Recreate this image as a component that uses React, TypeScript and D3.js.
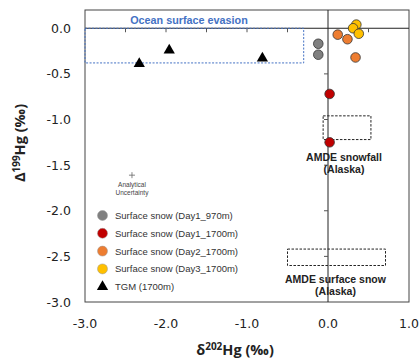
import { useEffect, useRef } from "react";
import * as d3 from "d3";

// series values: [d202Hg, D199Hg]
const day1_970 = [
  [-0.12, -0.17],
  [-0.12, -0.29],
];
const day1_1700 = [
  [0.02, -0.72],
  [0.02, -1.25],
];
const day2_1700 = [
  [0.12, -0.07],
  [0.24, -0.12],
  [0.34, -0.32],
];
const day3_1700 = [
  [0.35, 0.04],
  [0.31, 0.0],
  [0.38, -0.06],
];
const tgm = [
  [-2.33, -0.39],
  [-1.96, -0.24],
  [-0.81, -0.33],
];

const xTicks = [-3, -2, -1, 0, 1];
const yTicks = [0, -0.5, -1, -1.5, -2, -2.5, -3];
const xMinor = [-2.5, -2, -1.5, -1, -0.5, 0.5];
const yMinor = [-0.5, -1, -1.5, -2, -2.5];

const legendLabels = [
  "Surface snow (Day1_970m)",
  "Surface snow (Day1_1700m)",
  "Surface snow (Day2_1700m)",
  "Surface snow (Day3_1700m)",
  "TGM (1700m)",
];
const circleColors = ["#808080", "#C00000", "#ED7D31", "#FFC000"];

// reference boxes [x0, x1, y0, y1]
const oceanBox = [-3, -0.3, -0.38, 0];
const snowfallBox = [-0.06, 0.53, -1.22, -0.96];
const surfaceBox = [-0.5, 0.71, -2.6, -2.42];
const uncertainty = [-2.42, -1.61];

export default function App() {
  const ref = useRef<SVGSVGElement>(null);

  useEffect(() => {
    const svg = d3.select(ref.current);
    svg.selectAll("*").remove();
    const left = 85;
    const right = 409;
    const top = 10;
    const bottom = 302;
    const font = "'Liberation Sans', Arial, sans-serif";
    const tickFont = "'DejaVu Sans', sans-serif";
    const x = d3.scaleLinear().domain([-3, 1]).range([left, right]);
    const y = d3.scaleLinear().domain([-3, 0.2]).range([bottom, top]);

    // frame
    svg
      .append("rect")
      .attr("x", left)
      .attr("y", top)
      .attr("width", right - left)
      .attr("height", bottom - top)
      .attr("fill", "none")
      .attr("stroke", "#444")
      .attr("stroke-width", 1);

    // zero lines with ticks
    svg
      .append("line")
      .attr("x1", left)
      .attr("x2", right)
      .attr("y1", y(0))
      .attr("y2", y(0))
      .attr("stroke", "#222");
    svg
      .append("line")
      .attr("x1", x(0))
      .attr("x2", x(0))
      .attr("y1", top)
      .attr("y2", bottom)
      .attr("stroke", "#222");
    svg
      .selectAll(".xminor")
      .data(xMinor)
      .enter()
      .append("line")
      .attr("x1", (d) => x(d))
      .attr("x2", (d) => x(d))
      .attr("y1", y(0))
      .attr("y2", y(0) + 4)
      .attr("stroke", "#555");
    svg
      .selectAll(".yminor")
      .data(yMinor)
      .enter()
      .append("line")
      .attr("x1", x(0) - 4)
      .attr("x2", x(0))
      .attr("y1", (d) => y(d))
      .attr("y2", (d) => y(d))
      .attr("stroke", "#555");

    // tick labels
    svg
      .selectAll(".xt")
      .data(xTicks)
      .enter()
      .append("text")
      .attr("x", (d) => x(d))
      .attr("y", 327.5)
      .attr("text-anchor", "middle")
      .attr("font-family", tickFont)
      .attr("font-size", 12.5)
      .attr("fill", "#222")
      .text((d) => d3.format(".1f")(d).replace("−", "-"));
    svg
      .selectAll(".yt")
      .data(yTicks)
      .enter()
      .append("text")
      .attr("x", 71)
      .attr("y", (d) => y(d) + 4.5)
      .attr("text-anchor", "end")
      .attr("font-family", tickFont)
      .attr("font-size", 12.5)
      .attr("fill", "#222")
      .text((d) => d3.format(".1f")(d).replace("−", "-"));

    // axis titles
    const xt = svg
      .append("text")
      .attr("x", 235)
      .attr("y", 355)
      .attr("text-anchor", "middle")
      .attr("font-family", "'Open Sans', sans-serif")
      .attr("font-weight", "bold")
      .attr("font-size", 14.5)
      .attr("fill", "#222");
    xt.append("tspan").text("δ");
    xt.append("tspan").attr("font-size", 10).attr("dy", -5).text("202");
    xt.append("tspan").attr("dy", 5).text("Hg (‰)");

    const yt = svg
      .append("text")
      .attr("transform", "translate(25,143) rotate(-90)")
      .attr("text-anchor", "middle")
      .attr("font-family", "'Open Sans', sans-serif")
      .attr("font-weight", "bold")
      .attr("font-size", 14.5)
      .attr("fill", "#222");
    yt.append("tspan").text("Δ");
    yt.append("tspan").attr("font-size", 10).attr("dy", -5).text("199");
    yt.append("tspan").attr("dy", 5).text("Hg (‰)");

    // reference boxes
    const box = (b: number[], color: string, dash: string) =>
      svg
        .append("rect")
        .attr("x", x(b[0]))
        .attr("y", y(b[3]))
        .attr("width", x(b[1]) - x(b[0]))
        .attr("height", y(b[2]) - y(b[3]))
        .attr("fill", "none")
        .attr("stroke", color)
        .attr("stroke-width", 1)
        .attr("stroke-dasharray", dash);
    box(oceanBox, "#4472C4", "2,1.5");
    box(snowfallBox, "#222", "2.5,1.5");
    box(surfaceBox, "#222", "2.5,1.5");

    svg
      .append("text")
      .attr("x", 189)
      .attr("y", 24)
      .attr("text-anchor", "middle")
      .attr("font-family", font)
      .attr("font-weight", "bold")
      .attr("font-size", 10.8)
      .attr("fill", "#4472C4")
      .text("Ocean surface evasion");

    const boxLabel = (cx: number, cy: number, lines: string[]) =>
      lines.forEach((l, i) =>
        svg
          .append("text")
          .attr("x", cx)
          .attr("y", cy + i * 12.5)
          .attr("text-anchor", "middle")
          .attr("font-family", font)
          .attr("font-weight", "bold")
          .attr("font-size", 10.5)
          .attr("fill", "#222")
          .text(l)
      );
    boxLabel(344, 160.5, ["AMDE snowfall", "(Alaska)"]);
    boxLabel(335.5, 282.5, ["AMDE surface snow", "(Alaska)"]);

    // analytical uncertainty
    const ux = x(uncertainty[0]);
    const uy = y(uncertainty[1]);
    svg
      .append("path")
      .attr("d", `M${ux - 3},${uy}H${ux + 3}M${ux},${uy - 3}V${uy + 3}`)
      .attr("stroke", "#666")
      .attr("stroke-width", 0.8);
    ["Analytical", "Uncertainty"].forEach((l, i) =>
      svg
        .append("text")
        .attr("x", ux)
        .attr("y", uy + 12 + i * 8)
        .attr("text-anchor", "middle")
        .attr("font-family", font)
        .attr("font-size", 6.5)
        .attr("fill", "#444")
        .text(l)
    );

    // points
    const tri = d3.symbol().type(d3.symbolTriangle).size(55);
    svg
      .selectAll(".tgm")
      .data(tgm)
      .enter()
      .append("path")
      .attr("d", tri)
      .attr("transform", (d) => `translate(${x(d[0])},${y(d[1])})`)
      .attr("fill", "#000");

    [day1_970, day1_1700, day2_1700, day3_1700].forEach((s, i) =>
      svg
        .selectAll(".s" + i)
        .data(s)
        .enter()
        .append("circle")
        .attr("cx", (d) => x(d[0]))
        .attr("cy", (d) => y(d[1]))
        .attr("r", 4.8)
        .attr("fill", circleColors[i])
        .attr("stroke", "#333")
        .attr("stroke-width", 0.8)
    );

    // legend
    const lg = svg.append("g");
    legendLabels.forEach((l, i) => {
      const ly = 215.5 + i * 17.8;
      if (i < 4) {
        lg.append("circle")
          .attr("cx", 102.5)
          .attr("cy", ly)
          .attr("r", 5)
          .attr("fill", circleColors[i])
          .attr("stroke", "#999")
          .attr("stroke-width", 0.5);
      } else {
        lg.append("path")
          .attr("d", tri)
          .attr("transform", `translate(102.5,${ly})`)
          .attr("fill", "#000");
      }
      lg.append("text")
        .attr("x", 115)
        .attr("y", ly + 3.5)
        .attr("font-family", font)
        .attr("font-size", 9.5)
        .attr("fill", "#333")
        .text(l);
    });
  }, []);

  return (
    <svg
      ref={ref}
      width={419}
      height={358}
      style={{ position: "absolute", left: 0, top: 0, background: "#fff" }}
    />
  );
}
